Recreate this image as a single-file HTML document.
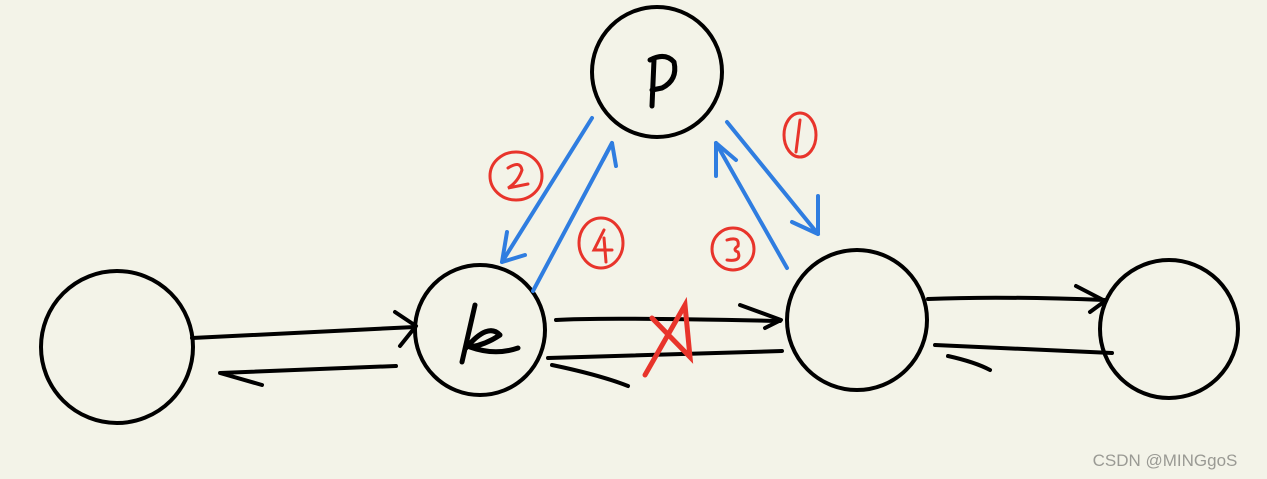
<!DOCTYPE html>
<html><head><meta charset="utf-8"><style>
html,body{margin:0;padding:0;background:#f3f3e8;}
svg{display:block}
</style></head><body>
<svg width="1267" height="479" viewBox="0 0 1267 479" xmlns="http://www.w3.org/2000/svg">
<rect width="1267" height="479" fill="#f3f3e8"/>
<g fill="none" stroke="#000" stroke-width="4" stroke-linecap="round" stroke-linejoin="round">
<circle cx="117" cy="347" r="76"/>
<circle cx="480" cy="330" r="65"/>
<circle cx="657" cy="72" r="65"/>
<circle cx="857" cy="320" r="70"/>
<circle cx="1169" cy="329" r="69"/>
<path d="M192 338 L415 327"/>
<path d="M395 312 L416 326 L400 346"/>
<path d="M396 366 L220 373 L262 385"/>
<path d="M556 320 Q600 317 780 321"/>
<path d="M740 305 L781 320 L765 328"/>
<path d="M782 351 L548 358"/>
<path d="M552 365 Q600 375 628 386"/>
<path d="M928 299 Q1000 296 1105 300"/>
<path d="M1076 286 L1105 301 L1090 312"/>
<path d="M1112 353 L935 345"/>
<path d="M948 356 Q975 362 990 370"/>
<path d="M650 60 Q665 52 674 62 Q678 80 662 88 L652 90 M654 60 L652 106" stroke-width="5"/>
<path d="M475 305 L462 362 M466 348 Q488 322 500 335 Q485 345 470 347 Q495 356 518 348" stroke-width="5"/>
</g>
<g fill="none" stroke="#2f7de0" stroke-width="4" stroke-linecap="round" stroke-linejoin="round">
<path d="M592 118 L502 262"/>
<path d="M507 232 L502 262 L525 255"/>
<path d="M612 143 L533 291"/>
<path d="M603 160 L612 143 L616 166"/>
<path d="M727 122 L818 234"/>
<path d="M818 196 L818 234 L792 222"/>
<path d="M787 268 L716 143"/>
<path d="M716 176 L716 143 L736 160"/>
</g>
<g fill="none" stroke="#e8342b" stroke-width="3" stroke-linecap="round">
<ellipse cx="516" cy="176" rx="26" ry="24"/>
<path d="M508 168 Q520 160 522 170 Q518 182 508 188 L528 184"/>
<ellipse cx="601" cy="243" rx="22" ry="25"/>
<path d="M604 230 L594 250 L612 250 M604 238 L606 262"/>
<ellipse cx="733" cy="249" rx="21" ry="21"/>
<path d="M727 240 Q740 236 738 246 Q732 250 738 252 Q742 262 727 260"/>
<ellipse cx="800" cy="135" rx="16" ry="22"/>
<path d="M800 120 L796 152"/>
<path d="M645 375 L685 305 L690 357 L652 318" stroke-width="5"/>
</g>
<text x="1165" y="466" font-family="Liberation Sans, sans-serif" font-size="17" fill="#9a9a94" text-anchor="middle">CSDN @MINGgoS</text>
</svg>
</body></html>
